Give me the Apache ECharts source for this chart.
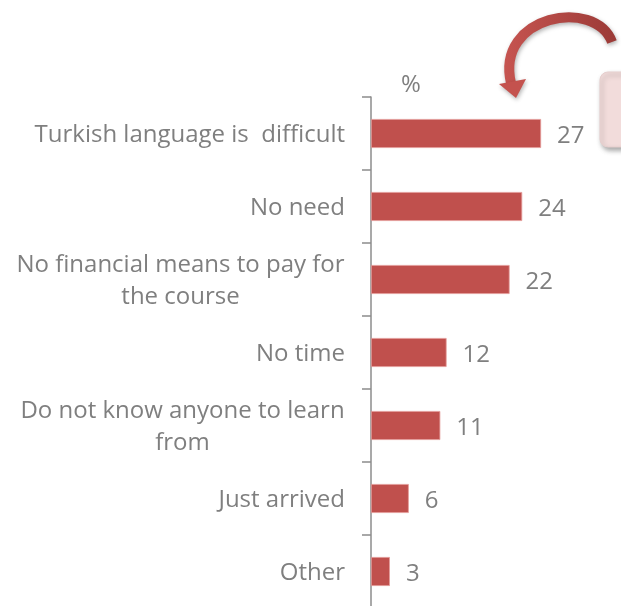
<!DOCTYPE html>
<html>
<head>
<meta charset="utf-8">
<script src="https://cdn.jsdelivr.net/npm/echarts@6/dist/echarts.min.js"></script>
<style>
  html, body { margin: 0; padding: 0; background: #ffffff; }
  #chart { width: 621px; height: 606px; }
</style>
</head>
<body>
<div id="chart"></div>
<script>
// Reasons for not attending a Turkish language course (%)
var categories = [
  'Turkish language is  difficult',
  'No need',
  'No financial means to pay for\nthe course',
  'No time',
  'Do not know anyone to learn\nfrom',
  'Just arrived',
  'Other'
];
var values = [27, 24, 22, 12, 11, 6, 3];
var unitLabel = '%';

var FONT = '"Open Sans", sans-serif';
var FONT_SIZE = 24;
var TEXT_COLOR = '#7f7f7f';
var BAR_COLOR = '#c0504d';

// Measure text so wrapped labels can be centred under their widest line
var measureCtx = document.createElement('canvas').getContext('2d');
measureCtx.font = FONT_SIZE + 'px ' + FONT;
function textWidth(s) { return Math.ceil(measureCtx.measureText(s).width); }

var richStyles = {};
categories.forEach(function (c, i) {
  var lines = c.split('\n');
  if (lines.length > 1) {
    var w = Math.max.apply(null, lines.map(textWidth));
    richStyles['w' + i] = {
      width: w, align: 'center', fontSize: FONT_SIZE, fontFamily: FONT,
      color: TEXT_COLOR, lineHeight: 32
    };
  }
});

var chart = echarts.init(document.getElementById('chart'), null, { renderer: 'canvas' });

chart.setOption({
  backgroundColor: '#ffffff',
  animation: false,
  grid: {
    left: 371, top: 97, width: 189, height: 511,
    containLabel: false, outerBoundsMode: 'none'
  },
  xAxis: {
    type: 'value', min: 0, max: 30, show: false
  },
  yAxis: {
    type: 'category',
    inverse: true,
    data: categories,
    name: unitLabel,
    nameLocation: 'start',
    nameGap: 0,
    nameTextStyle: {
      color: TEXT_COLOR, fontSize: 24, fontFamily: FONT,
      align: 'center', verticalAlign: 'bottom', padding: [0, 0, 0, 80]
    },
    axisLine: { show: true, lineStyle: { color: '#8c8c8c', width: 1.5 } },
    axisTick: { show: true, length: 9, lineStyle: { color: '#8c8c8c', width: 1.5 } },
    axisLabel: {
      margin: 26,
      color: TEXT_COLOR,
      fontSize: FONT_SIZE,
      fontFamily: FONT,
      lineHeight: 32,
      padding: [4, 0, 0, 0],
      formatter: function (value) {
        var i = categories.indexOf(value);
        if (richStyles['w' + i]) {
          return value.split('\n').map(function (l) { return '{w' + i + '|' + l + '}'; }).join('\n');
        }
        return value;
      },
      rich: richStyles
    },
    splitLine: { show: false }
  },
  series: [{
    type: 'bar',
    data: values,
    barWidth: 29,
    itemStyle: { color: BAR_COLOR, borderColor: '#e39a98', borderWidth: 0.8 },
    label: {
      show: true, position: 'right', distance: 16, offset: [0, 3],
      color: TEXT_COLOR, fontSize: FONT_SIZE, fontFamily: FONT
    }
  }],
  graphic: [
    {
      // callout box at the right edge
      type: 'rect',
      shape: { x: 600, y: 72, width: 60, height: 75, r: 8 },
      style: {
        fill: '#f2dcdb', stroke: '#e6cfce', lineWidth: 1,
        shadowBlur: 5, shadowOffsetX: 2, shadowOffsetY: 3, shadowColor: 'rgba(0,0,0,0.35)'
      },
      z: 10
    },
    {
      // curved arrow shaft
      type: 'bezierCurve',
      shape: { x1: 612, y1: 42, cpx1: 595, cpy1: -3, cpx2: 495, cpy2: 15, x2: 511, y2: 83 },
      style: {
        fill: null,
        lineWidth: 10,
        stroke: new echarts.graphic.LinearGradient(0, 0, 1, 0, [
          { offset: 0, color: '#c65450' },
          { offset: 1, color: '#9b3a37' }
        ]),
        shadowBlur: 4, shadowOffsetX: 1, shadowOffsetY: 2, shadowColor: 'rgba(0,0,0,0.3)'
      },
      z: 10
    },
    {
      // arrow head
      type: 'polygon',
      shape: { points: [[499, 84], [526, 79], [516, 98]] },
      style: {
        fill: '#c4524e',
        shadowBlur: 4, shadowOffsetX: 1, shadowOffsetY: 2, shadowColor: 'rgba(0,0,0,0.3)'
      },
      z: 11
    }
  ]
});
</script>
</body>
</html>
